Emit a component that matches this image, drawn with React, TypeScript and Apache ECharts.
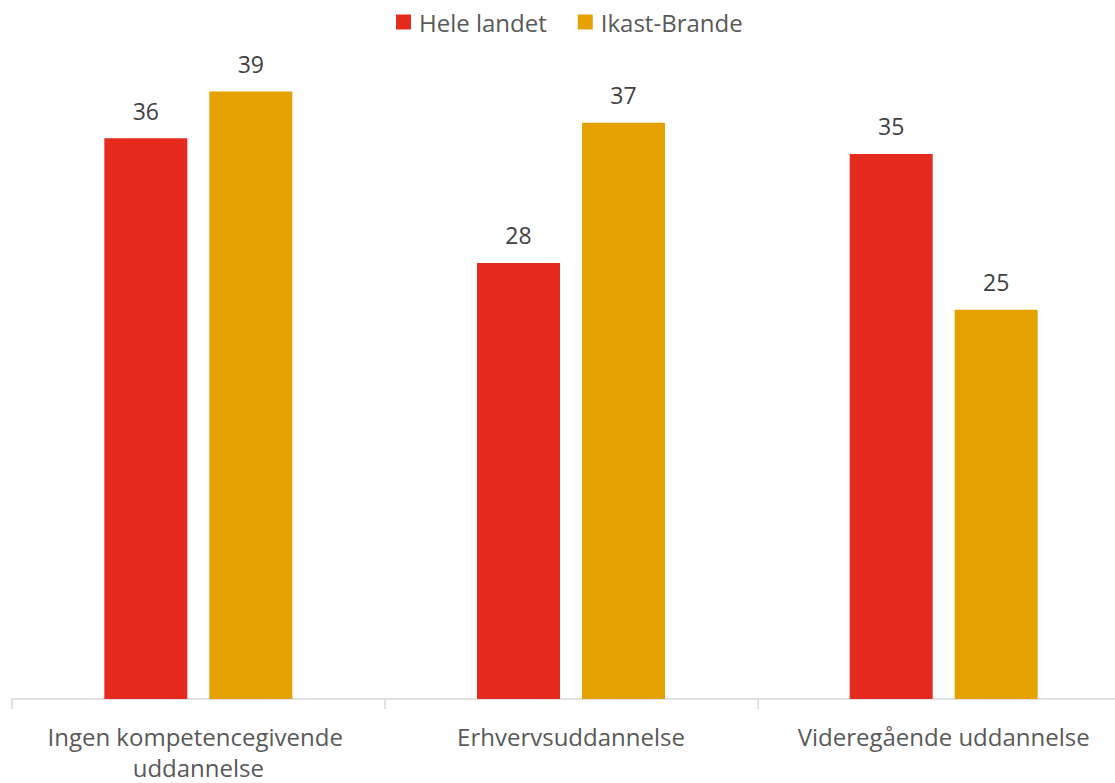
import React, { useEffect, useRef } from "react";
import * as echarts from "echarts";

const categories = ["Ingen kompetencegivende uddannelse", "Erhvervsuddannelse", "Videregående uddannelse"];
const seriesNames = ["Hele landet", "Ikast-Brande"];
const heleLandet = [36, 28, 35];
const ikastBrande = [39, 37, 25];
const colors = ["#E52A1E", "#E5A100"];

const FONT = "'Open Sans', sans-serif";
const TEXT = "#595959";

export default function App() {
  const ref = useRef<HTMLDivElement>(null);
  useEffect(() => {
    const chart = echarts.init(ref.current!, null, { renderer: "svg" });
    const label = {
      show: true,
      position: "top",
      distance: 16,
      color: "#404040",
      fontSize: 23,
      fontFamily: FONT,
    };
    chart.setOption({
      animation: false,
      textStyle: { fontFamily: FONT },
      legend: {
        data: seriesNames,
        top: 5,
        left: 391,
        itemWidth: 15,
        itemHeight: 15,
        itemGap: 31,
        icon: "rect",
        textStyle: { color: TEXT, fontSize: 24, fontFamily: FONT, padding: [0, 0, 0, 3] },
      },
      grid: { left: 12, right: 0, top: 76, bottom: 84, containLabel: false },
      xAxis: {
        type: "category",
        data: categories,
        axisLine: { lineStyle: { color: "#D9D9D9", width: 1.5 } },
        axisTick: { show: true, length: 10, lineStyle: { color: "#D9D9D9", width: 1.5 } },
        axisLabel: {
          color: TEXT,
          fontSize: 24,
          fontFamily: FONT,
          margin: 22,
          lineHeight: 31,
          width: 340,
          overflow: "break",
          interval: 0,
        },
      },
      yAxis: {
        type: "value",
        min: 0,
        max: 40,
        show: false,
        splitLine: { show: false },
      },
      series: [
        {
          name: seriesNames[0],
          type: "bar",
          data: heleLandet,
          itemStyle: { color: colors[0] },
          barWidth: 83,
          barGap: "26.5%",
          label,
        },
        {
          name: seriesNames[1],
          type: "bar",
          data: ikastBrande,
          itemStyle: { color: colors[1] },
          barWidth: 83,
          barGap: "26.5%",
          label,
        },
      ],
    });
    return () => chart.dispose();
  }, []);
  return (
    <div style={{ width: 1115, height: 783, position: "absolute", left: 0, top: 0, overflow: "hidden" }}>
      <div ref={ref} style={{ width: 1130, height: 783 }} />
    </div>
  );
}
